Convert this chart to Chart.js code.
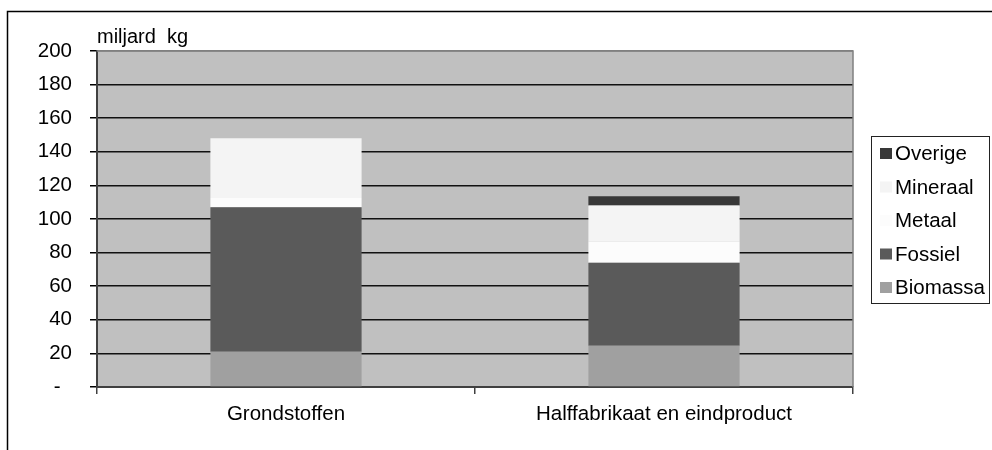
<!DOCTYPE html>
<html>
<head>
<meta charset="utf-8">
<script src="https://cdn.jsdelivr.net/npm/chart.js@4"></script>
<style>
  html, body { margin: 0; padding: 0; background: #fff; }
  #grafico { display: block; }
</style>
</head>
<body>
<canvas id="grafico" width="992" height="450"></canvas>
<script>
// Data
const categorieen = ['Grondstoffen', 'Halffabrikaat en eindproduct']
const biomassa = [21, 24.5]
const fossiel = [86, 49.5]
const metaal = [5.5, 12.5]
const mineraal = [35.5, 21.5]
const overige = [0, 5.5]
const eenheid = 'miljard  kg'

const FONT = "'Liberation Sans', Arial, sans-serif"

// achtergrond plot + kader
const achtergrond = {
  id: 'achtergrond',
  beforeDraw(chart) {
    const { ctx, chartArea: a } = chart
    ctx.save()
    ctx.fillStyle = '#c0c0c0'
    ctx.fillRect(a.left, a.top, a.right - a.left, a.bottom - a.top)
    ctx.restore()
  },
  afterDraw(chart) {
    const { ctx, chartArea: a } = chart
    ctx.save()
    // rand bovenkant en rechts van plot
    ctx.strokeStyle = '#808080'
    ctx.lineWidth = 1.5
    ctx.beginPath()
    ctx.moveTo(a.left, a.top)
    ctx.lineTo(a.right, a.top)
    ctx.lineTo(a.right, a.bottom)
    ctx.stroke()
    // buitenkader (alleen boven en links zichtbaar)
    ctx.strokeStyle = '#000'
    ctx.lineWidth = 1.5
    ctx.beginPath()
    ctx.moveTo(7.5, 452)
    ctx.lineTo(7.5, 11.5)
    ctx.lineTo(995, 11.5)
    ctx.stroke()
    // eenheid
    ctx.fillStyle = '#000'
    ctx.font = '20px ' + FONT
    ctx.textAlign = 'left'
    ctx.textBaseline = 'alphabetic'
    ctx.fillText(eenheid, a.left, 42.5)
    // legenda (omgekeerde volgorde)
    ctx.lineWidth = 1
    ctx.strokeStyle = '#222'
    ctx.strokeRect(871.5, 136.5, 118, 167)
    const sets = chart.data.datasets.slice().reverse()
    ctx.font = '20.5px ' + FONT
    ctx.textBaseline = 'middle'
    sets.forEach((ds, i) => {
      const y = 153.5 + i * 33.5
      ctx.fillStyle = ds.backgroundColor
      ctx.fillRect(880, y - 5.5, 12, 11)
      ctx.fillStyle = '#000'
      ctx.fillText(ds.label, 895, y + 1)
    })
    ctx.restore()
  }
}

const ctx = document.getElementById('grafico').getContext('2d')
new Chart(ctx, {
  type: 'bar',
  data: {
    labels: categorieen,
    datasets: [
      { label: 'Biomassa', data: biomassa, backgroundColor: '#a0a0a0' },
      { label: 'Fossiel', data: fossiel, backgroundColor: '#5a5a5a' },
      { label: 'Metaal', data: metaal, backgroundColor: '#fcfcfc' },
      { label: 'Mineraal', data: mineraal, backgroundColor: '#f4f4f4' },
      { label: 'Overige', data: overige, backgroundColor: '#383838' }
    ]
  },
  options: {
    responsive: false,
    animation: false,
    devicePixelRatio: 1,
    layout: { padding: { top: 51, right: 139, left: 0, bottom: 0 } },
    datasets: { bar: { categoryPercentage: 1, barPercentage: 0.4, borderWidth: 0 } },
    plugins: {
      legend: { display: false },
      tooltip: { enabled: false }
    },
    scales: {
      x: {
        stacked: true,
        grid: {
          offset: true,
          drawOnChartArea: false,
          drawTicks: true,
          tickLength: 7,
          color: '#404040',
          lineWidth: 1.5
        },
        border: { color: '#404040', width: 2 },
        ticks: { color: '#000', padding: 8, font: { family: FONT, size: 20.5 } },
        afterFit(scale) { scale.height = 63 }
      },
      y: {
        stacked: true,
        min: 0,
        max: 200,
        grid: {
          color: (c) => c.tick && c.tick.value === 200 ? '#808080' : '#111',
          tickColor: '#000',
          tickLength: 7,
          lineWidth: 1.5
        },
        border: { color: '#404040', width: 2 },
        ticks: {
          stepSize: 20,
          color: '#000',
          padding: 18,
          font: { family: FONT, size: 20.5 },
          callback: (v) => v === 0 ? '-  ' : v
        },
        afterFit(scale) { scale.width = 97 }
      }
    }
  },
  plugins: [achtergrond]
})
</script>
</body>
</html>
